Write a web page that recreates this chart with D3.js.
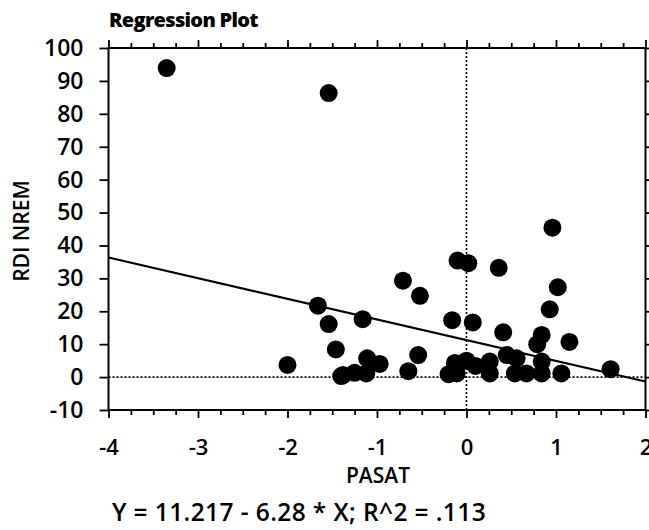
<!DOCTYPE html>
<html>
<head>
<meta charset="utf-8">
<script src="https://cdn.jsdelivr.net/npm/d3@7"></script>
<style>
  html, body { margin: 0; padding: 0; background: #fff; }
  svg { display: block; }
  text { font-family: "Open Sans", Lato, sans-serif; fill: #000; }
</style>
</head>
<body>
<svg id="chart" width="649" height="530"></svg>
<script>
// ---- data ----
const pasat = [-3.35, -1.54, -1.66, -1.54, -1.16, -1.46, -2.00, -1.11, -0.97, -1.38,
  -1.25, -1.12, -0.65, -0.71, -0.52, -0.10, 0.02, 0.36, 0.96, 1.02,
  0.93, -0.16, 0.07, 0.41, 0.84, 0.79, 1.15, 1.61, -0.54, -0.20,
  -0.11, -0.13, 0.00, 0.10, 0.26, 0.26, 0.45, 0.56, 0.54, 0.67,
  0.84, 0.84, 1.06, -1.40];
const rdiNrem = [93.9, 86.3, 21.7, 16.1, 17.6, 8.4, 3.7, 5.7, 4.0, 0.6,
  1.3, 1.1, 1.8, 29.3, 24.7, 35.4, 34.6, 33.2, 45.4, 27.3,
  20.6, 17.3, 16.6, 13.6, 12.8, 10.0, 10.7, 2.4, 6.7, 0.9,
  1.1, 4.3, 5.0, 3.4, 4.7, 1.1, 6.7, 5.7, 1.1, 1.1,
  4.7, 1.1, 1.1, 0.3];
const xTicks = [-4, -3, -2, -1, 0, 1, 2];
const yTicks = [-10, 0, 10, 20, 30, 40, 50, 60, 70, 80, 90, 100];
const intercept = 11.217;
const slope = -6.28;
const titleText = "Regression Plot";
const xLabel = "PASAT";
const yLabel = "RDI NREM";
const equationText = "Y = 11.217 - 6.28 * X; R^2 = .113";

// ---- layout ----
const L = 108.5, R = 645.5, T = 48, B = 410;
const svg = d3.select("#chart");
const x = d3.scaleLinear().domain([-4, 2]).range([L, R]);
const y = d3.scaleLinear().domain([-10, 100]).range([B, T]);

const minorX = d3.range(-4, 2.001, 0.25).filter(v => Math.abs(v - Math.round(v)) > 1e-6);
const fmt = d => String(d);

function styleAxis(g) {
  g.select(".domain").remove();
  g.selectAll(".tick line").attr("stroke", "#000").attr("stroke-width", 1.8);
}

// bottom axis (labels)
const gB = svg.append("g").attr("transform", `translate(0,${B})`)
  .call(d3.axisBottom(x).tickValues(xTicks).tickFormat(fmt).tickSize(8).tickPadding(21));
styleAxis(gB);
gB.selectAll("text").attr("font-size", 22).attr("font-weight", 600);
svg.append("g").attr("transform", `translate(0,${B})`)
  .call(d3.axisBottom(x).tickValues(minorX).tickFormat("").tickSize(5)).call(styleAxis);

// top axis (ticks only)
svg.append("g").attr("transform", `translate(0,${T})`)
  .call(d3.axisTop(x).tickValues(xTicks).tickFormat("").tickSize(8)).call(styleAxis);
svg.append("g").attr("transform", `translate(0,${T})`)
  .call(d3.axisTop(x).tickValues(minorX).tickFormat("").tickSize(5)).call(styleAxis);

// left axis (labels)
const gL = svg.append("g").attr("transform", `translate(${L},0)`)
  .call(d3.axisLeft(y).tickValues(yTicks).tickFormat(fmt).tickSize(9).tickPadding(16));
styleAxis(gL);
gL.selectAll("text").attr("font-size", 23).attr("font-weight", 600);

// right axis (ticks only)
svg.append("g").attr("transform", `translate(${R},0)`)
  .call(d3.axisRight(y).tickValues(yTicks).tickFormat("").tickSize(6)).call(styleAxis);

// frame
svg.append("rect").attr("x", L).attr("y", T).attr("width", R - L).attr("height", B - T)
  .attr("fill", "none").attr("stroke", "#000").attr("stroke-width", 2);

// reference dotted lines
svg.append("line").attr("x1", x(0)).attr("x2", x(0)).attr("y1", T).attr("y2", B)
  .attr("stroke", "#000").attr("stroke-width", 1.6).attr("stroke-dasharray", "2,2");
svg.append("line").attr("x1", L).attr("x2", R).attr("y1", y(0)).attr("y2", y(0))
  .attr("stroke", "#000").attr("stroke-width", 1.6).attr("stroke-dasharray", "2,2");

// regression line
const [x0, x1] = x.domain();
svg.append("line")
  .attr("x1", x(x0)).attr("y1", y(intercept + slope * x0))
  .attr("x2", x(x1)).attr("y2", y(intercept + slope * x1))
  .attr("stroke", "#000").attr("stroke-width", 2.2);

// points
svg.append("g").selectAll("circle")
  .data(pasat.map((v, i) => [v, rdiNrem[i]]))
  .join("circle")
  .attr("cx", d => x(d[0])).attr("cy", d => y(d[1])).attr("r", 9)
  .attr("fill", "#000");

// texts
svg.append("text").attr("x", 109).attr("y", 27).attr("font-size", 20).attr("font-weight", 800)
  .attr("letter-spacing", -0.7).text(titleText);
svg.append("text").attr("transform", `translate(29,231) rotate(-90)`).attr("text-anchor", "middle")
  .attr("font-size", 21).attr("font-weight", 600).text(yLabel);
svg.append("text").attr("x", (L + R) / 2 + 1).attr("y", 483).attr("text-anchor", "middle")
  .attr("font-size", 21).attr("font-weight", 600).text(xLabel);
svg.append("text").attr("x", 299).attr("y", 521).attr("text-anchor", "middle")
  .attr("font-size", 24.5).attr("font-weight", 600).attr("letter-spacing", 0.4).text(equationText);
</script>
</body>
</html>
